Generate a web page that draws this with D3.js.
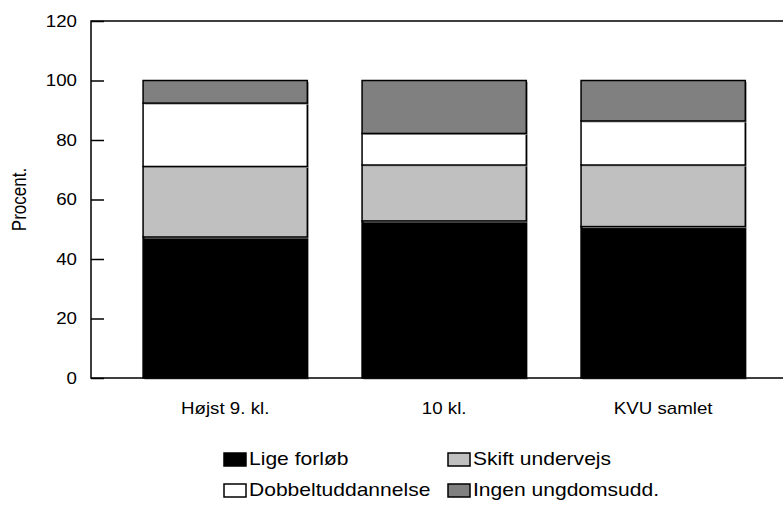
<!DOCTYPE html>
<html>
<head>
<meta charset="utf-8">
<script src="https://cdn.jsdelivr.net/npm/d3@7"></script>
<style>
  body { margin: 0; background: #fff; }
  text { font-family: "Liberation Sans", Arial, sans-serif; fill: #000; }
</style>
</head>
<body>
<div id="chart"></div>
<script>
// categories and series (percent)
var categories = ["Højst 9. kl.", "10 kl.", "KVU samlet"];
var seriesNames = ["Lige forløb", "Skift undervejs", "Dobbeltuddannelse", "Ingen ungdomsudd."];
var ligeForlob = [47.4, 52.8, 50.9];
var skiftUndervejs = [23.7, 18.8, 20.7];
var dobbeltuddannelse = [21.3, 10.6, 14.8];
var ingenUngdomsudd = [7.6, 17.8, 13.6];
var yTicks = [0, 20, 40, 60, 80, 100, 120];

var colors = ["#000000", "#c0c0c0", "#ffffff", "#808080"];

var width = 783, height = 505;
var plotLeft = 91, plotRight = 783, plotTop = 21, plotBottom = 378;
var stretch = 1.17; // text in the original is a bit wider than normal

var svg = d3.select("#chart").append("svg")
  .attr("width", width)
  .attr("height", height);

var rows = categories.map(function(c, i) {
  return {
    cat: c,
    "Lige forløb": ligeForlob[i],
    "Skift undervejs": skiftUndervejs[i],
    "Dobbeltuddannelse": dobbeltuddannelse[i],
    "Ingen ungdomsudd.": ingenUngdomsudd[i]
  };
});
var stacked = d3.stack().keys(seriesNames)(rows);

var x = d3.scaleBand()
  .domain(categories)
  .range([plotLeft, plotRight])
  .paddingInner(0.25)
  .paddingOuter(0.205)
  .align(0.58);

var y = d3.scaleLinear()
  .domain([0, 120])
  .range([plotBottom, plotTop]);

function place(px, py) {
  return "translate(" + px + "," + py + ") scale(" + stretch + ",1)";
}

// bars
var layer = svg.selectAll("g.layer")
  .data(stacked)
  .enter().append("g")
  .attr("class", "layer");

// small shadow like the original
layer.selectAll("rect.shadow")
  .data(function(d) { return d; })
  .enter().append("rect")
  .attr("x", function(d) { return x(d.data.cat) + 1.5; })
  .attr("y", function(d) { return y(d[1]) + 1.5; })
  .attr("width", x.bandwidth())
  .attr("height", function(d) { return y(d[0]) - y(d[1]); })
  .attr("fill", "#999");

layer.each(function(s, i) {
  d3.select(this).selectAll("rect.bar")
    .data(s)
    .enter().append("rect")
    .attr("class", "bar")
    .attr("x", function(d) { return x(d.data.cat); })
    .attr("y", function(d) { return y(d[1]); })
    .attr("width", x.bandwidth())
    .attr("height", function(d) { return y(d[0]) - y(d[1]); })
    .attr("fill", colors[i])
    .attr("stroke", "#000")
    .attr("stroke-width", 1.5);
});

// frame
svg.append("path")
  .attr("d", "M" + plotRight + "," + plotTop + "H" + plotLeft + "V" + plotBottom + "H" + plotRight)
  .attr("fill", "none")
  .attr("stroke", "#000")
  .attr("stroke-width", 1.5);

// y axis
var yAxis = svg.append("g")
  .attr("transform", "translate(" + plotLeft + ",0)")
  .call(d3.axisLeft(y).tickValues(yTicks).tickSizeInner(-13).tickSizeOuter(0).tickPadding(14));
yAxis.select(".domain").remove();
yAxis.selectAll("line").attr("stroke", "#000").attr("stroke-width", 1.5);
yAxis.selectAll(".tick text")
  .attr("font-family", null)
  .style("font-size", "16px")
  .attr("x", null)
  .attr("transform", "translate(-14,0) scale(" + stretch + ",1)");

svg.append("text")
  .attr("transform", "translate(26," + (plotTop + plotBottom) / 2 + ") rotate(-90) scale(1," + stretch + ")")
  .attr("text-anchor", "middle")
  .style("font-size", "17px")
  .text("Procent.");

// category labels
svg.selectAll("text.cat")
  .data(categories)
  .enter().append("text")
  .attr("class", "cat")
  .attr("transform", function(d) { return place(x(d) + x.bandwidth() / 2, 414); })
  .attr("text-anchor", "middle")
  .style("font-size", "16px")
  .text(function(d) { return d; });

// legend
var legendPos = [[224, 459], [448, 459], [224, 490], [448, 490]];
var legend = svg.selectAll("g.legend")
  .data(seriesNames)
  .enter().append("g")
  .attr("class", "legend")
  .attr("transform", function(d, i) { return "translate(" + legendPos[i][0] + "," + legendPos[i][1] + ")"; });

legend.append("rect")
  .attr("x", 0)
  .attr("y", -6)
  .attr("width", 22)
  .attr("height", 13)
  .attr("fill", function(d, i) { return colors[i]; })
  .attr("stroke", "#000")
  .attr("stroke-width", 1.5);

legend.append("text")
  .attr("transform", place(25, 6))
  .style("font-size", "18px")
  .text(function(d) { return d; });
</script>
</body>
</html>
